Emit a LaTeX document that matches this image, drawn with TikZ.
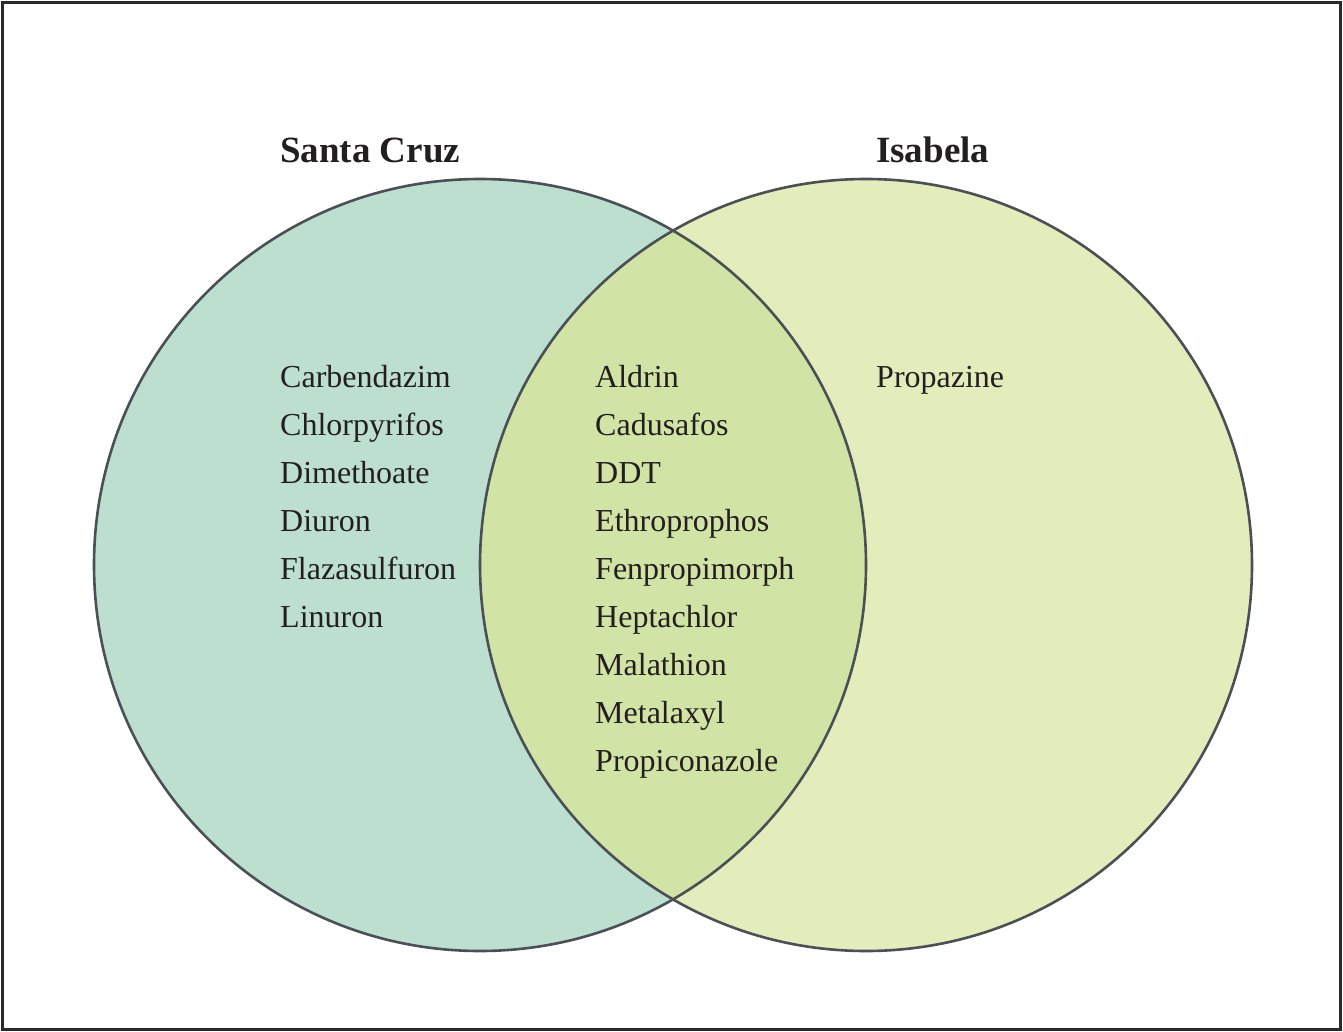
\documentclass[tikz,border=0pt]{standalone}
\usepackage{fontspec}
\setmainfont{Liberation Serif}
\definecolor{leftfill}{HTML}{BCDFD0}
\definecolor{rightfill}{HTML}{E3ECBB}
\definecolor{midfill}{HTML}{D2E4A5}
\definecolor{ringcol}{HTML}{4A5055}
\definecolor{framecol}{HTML}{2A2A2A}
\definecolor{txtcol}{HTML}{231F20}
\tikzset{
  item/.style={anchor=base west, inner sep=0pt, font=\fontsize{32}{38}\selectfont, text=txtcol},
  title/.style={anchor=base west, inner sep=0pt, font=\fontsize{37}{44}\selectfont\bfseries, text=txtcol},
  ring/.style={draw=ringcol, line width=2.6pt}
}
\begin{document}
\begin{tikzpicture}[x=1pt,y=-1pt]
\useasboundingbox (0,0) rectangle (1343,1032);
\fill[white] (0,0) rectangle (1343,1032);
\draw[framecol, line width=2.6pt] (2.3,2.3) rectangle (1340.7,1029.7);
\coordinate (cl) at (480,565);
\coordinate (cr) at (866,565);
\fill[leftfill] (cl) circle[radius=386];
\fill[rightfill] (cr) circle[radius=386];
\begin{scope}
\clip (cl) circle[radius=386];
\fill[midfill] (cr) circle[radius=386];
\end{scope}
\draw[ring] (cl) circle[radius=386];
\draw[ring] (cr) circle[radius=386];
\node[title] (tsc) at (280,163) {Santa Cruz};
\node[title] (tis) at (876,163) {Isabela};
\foreach \t [count=\i from 0] in {Carbendazim,Chlorpyrifos,Dimethoate,Diuron,Flazasulfuron,Linuron}
  \node[item] (l\i) at (280,387+48*\i) {\t};
\foreach \t [count=\i from 0] in {Aldrin,Cadusafos,DDT,Ethroprophos,Fenpropimorph,Heptachlor,Malathion,Metalaxyl,Propiconazole}
  \node[item] (m\i) at (595,387+48*\i) {\t};
\node[item] (r0) at (876,387) {Propazine};
\end{tikzpicture}
\end{document}
